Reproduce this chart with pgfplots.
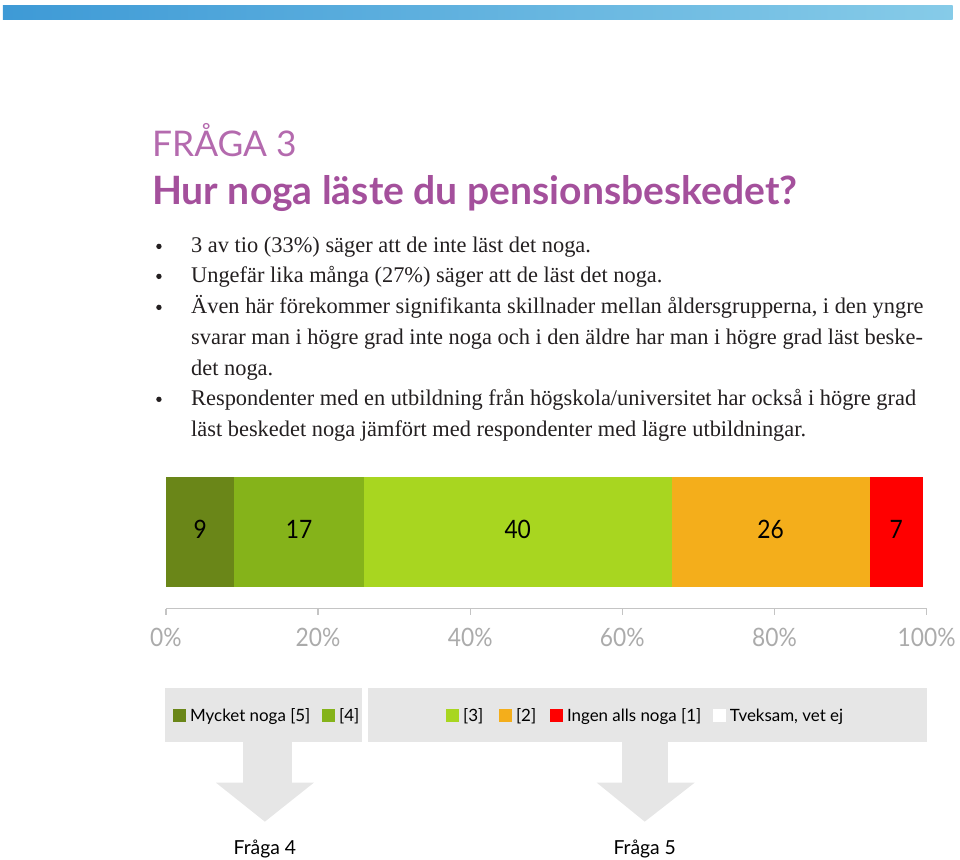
\documentclass[border=0pt]{standalone}
\usepackage{pgfplots}
\pgfplotsset{compat=1.18}
\usepackage{fontspec}
\setmainfont{Liberation Serif}
\newfontfamily\gs{Lato}
\newfontfamily\gsn{Lato}[FakeStretch=0.9]
\definecolor{cA}{HTML}{6A8618}
\definecolor{cB}{HTML}{85B31A}
\definecolor{cC}{HTML}{A8D620}
\definecolor{cD}{HTML}{F4AE1B}
\definecolor{cE}{HTML}{FF0000}
\definecolor{tLight}{HTML}{B46AAE}
\definecolor{tBold}{HTML}{A4509C}
\definecolor{body}{HTML}{231F20}
\definecolor{boxg}{HTML}{E6E6E6}
\definecolor{tickg}{HTML}{ABABAB}
\begin{document}
\begin{tikzpicture}[x=0.75pt,y=-0.75pt]
\path (0,0) rectangle (960,860);
\coordinate (A) at (166,609);
% top band
\shade[left color={rgb,255:red,62;green,154;blue,214}, right color={rgb,255:red,134;green,203;blue,232}] (3,6) rectangle (953,20);
% titles
\node[anchor=base west, inner sep=0, text=tLight, font=\gs\fontsize{26.5}{30}\selectfont] at (152,157) {FRÅGA 3};
\node[anchor=base west, inner sep=0, text=tBold, font=\gs\bfseries\fontsize{29.3}{30}\selectfont] at (152,205) {Hur noga läste du pensionsbeskedet?};
% body
\begin{scope}[every node/.style={anchor=base west, inner sep=0, text=body, font=\fontsize{16.8}{18}\selectfont}]
\node at (191,253) {3 av tio (33\%) säger att de inte läst det noga.};
\node at (191,283) {Ungefär lika många (27\%) säger att de läst det noga.};
\node at (191,314) {Även här förekommer signifikanta skillnader mellan åldersgrupperna, i den yngre};
\node at (191,345) {svarar man i högre grad inte noga och i den äldre har man i högre grad läst beske-};
\node at (191,376) {det noga.};
\node at (191,406) {Respondenter med en utbildning från högskola/universitet har också i högre grad};
\node at (191,437) {läst beskedet noga jämfört med respondenter med lägre utbildningar.};
\foreach \yy in {253,283,314,406}{\fill[body] (159,\yy-6.5) circle (2.7);}
\end{scope}
% chart
\begin{axis}[
  at={(A)}, anchor=origin,
  scale only axis, width=570.75pt, height=99.75pt,
  xmin=0, xmax=100, ymin=0, ymax=133,
  xbar stacked, bar width=82.5pt,
  axis x line*=bottom, hide y axis,
  axis line style={draw=tickg!70, line width=1pt},
  xtick={0,20,40,60,80,100},
  xticklabels={0\%,20\%,40\%,60\%,80\%,100\%},
  tick align=outside, major tick length=4.5pt,
  tick style={draw=tickg!70, line width=1pt},
  xticklabel style={text=tickg, font=\gsn\fontsize{19}{20}\selectfont, yshift=-6.6pt},
  every node near coord/.append style={anchor=center, text=black, yshift=1.5pt, font=\gsn\fontsize{19}{20}\selectfont},
  clip=false,
]
\addplot[fill=cA, draw=none, nodes near coords={9}] coordinates {(9,77)};
\addplot[fill=cB, draw=none, nodes near coords={17}] coordinates {(17,77)};
\addplot[fill=cC, draw=none, nodes near coords={40}] coordinates {(40.5,77)};
\addplot[fill=cD, draw=none, nodes near coords={26}] coordinates {(26,77)};
\addplot[fill=cE, draw=none, nodes near coords={7}] coordinates {(7,77)};
\end{axis}
% legend boxes
\fill[boxg] (165,688) rectangle (362,742);
\fill[boxg] (368,688) rectangle (927,742);
\fill[boxg] (243,742) rectangle (292,783);
\fill[boxg] (216,783) -- (314,783) -- (265,822) -- cycle;
\fill[boxg] (622,742) rectangle (668,783);
\fill[boxg] (597,783) -- (695,783) -- (645,822) -- cycle;
\begin{scope}[every node/.style={anchor=base west, inner sep=0, text=black, font=\gs\fontsize{12.7}{14}\selectfont}]
\fill[cA] (173,709) rectangle (186,722); \node at (190,722) {Mycket noga [5]};
\fill[cB] (322,709) rectangle (335,722); \node at (339,722) {[4]};
\fill[cC] (446,709) rectangle (459,722); \node at (463,722) {[3]};
\fill[cD] (499,709) rectangle (512,722); \node at (516,722) {[2]};
\fill[cE] (550,709) rectangle (563,722); \node at (567,722) {Ingen alls noga [1]};
\fill[white] (713,709) rectangle (726,722); \node at (730,722) {Tveksam, vet ej};
\end{scope}
\node[anchor=base, inner sep=0, font=\gs\fontsize{14.5}{15}\selectfont] at (265,855) {Fråga 4};
\node[anchor=base, inner sep=0, font=\gs\fontsize{14.5}{15}\selectfont] at (645,855) {Fråga 5};
\end{tikzpicture}
\end{document}
